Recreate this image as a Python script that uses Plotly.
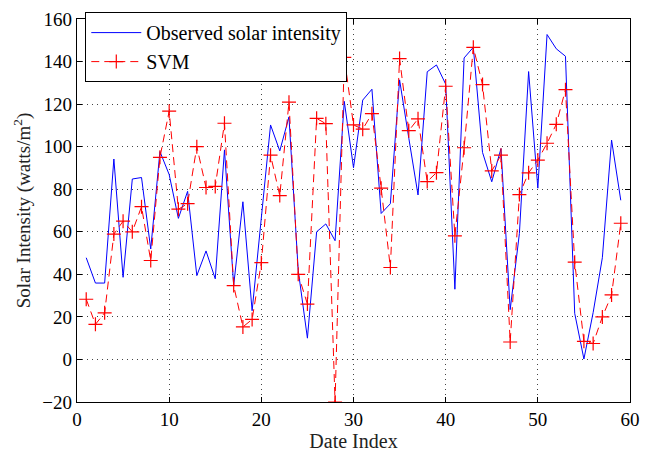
import plotly.graph_objects as go

date_index = list(range(1, 60))

observed = [47.8, 35.9, 35.9, 94.2, 38.6, 84.8, 85.5, 51.9, 97.7, 86.9,
            66.3, 79.0, 39.4, 51.0, 37.9, 98.5, 34.8, 74.1, 22.9, 66.0,
            110.2, 98.0, 114.0, 42.0, 10.0, 60.0, 63.7, 55.8, 121.3, 90.1,
            121.9, 127.0, 68.6, 73.2, 131.4, 104.0, 77.3, 135.2, 138.4, 129.4,
            33.0, 141.7, 146.7, 97.3, 83.5, 99.1, 23.4, 59.2, 135.3, 80.5,
            152.7, 146.0, 142.5, 21.7, 0.2, 22.0, 47.8, 103.1, 74.8]

svm = [28.3, 16.5, 21.9, 58.9, 65.0, 60.0, 71.8, 46.5, 95.0, 116.7,
       70.6, 73.2, 100.0, 80.8, 81.3, 111.0, 34.7, 15.3, 18.8, 45.5,
       96.0, 77.0, 120.9, 40.0, 26.0, 113.3, 110.8, -20.0, 142.0, 110.2,
       108.2, 115.5, 80.5, 43.2, 141.4, 107.5, 113.1, 83.6, 87.8, 128.4,
       58.1, 99.5, 146.7, 129.2, 88.6, 96.0, 8.2, 77.5, 87.7, 93.7,
       101.6, 110.5, 126.8, 45.7, 8.5, 7.5, 20.0, 30.3, 64.0]

x_ticks = [0, 10, 20, 30, 40, 50, 60]
y_ticks = [-20, 0, 20, 40, 60, 80, 100, 120, 140, 160]

FONT = "Liberation Serif, Times New Roman, serif"

fig = go.Figure()
fig.add_trace(go.Scatter(
    x=date_index, y=observed, mode="lines", name="Observed solar intensity",
    line=dict(color="#0000ff", width=1),
))
fig.add_trace(go.Scatter(
    x=date_index, y=svm, mode="lines+markers", name="SVM",
    line=dict(color="#ff0000", width=1, dash="8px,5px"),
    marker=dict(symbol="cross-thin-open", size=10,
                line=dict(color="#ff0000", width=1.2)),
))

axis_common = dict(
    showline=True, linecolor="black", linewidth=1.3, mirror="ticks",
    ticks="inside", ticklen=5, tickcolor="black", tickwidth=1,
    showgrid=True, gridcolor="#444444", gridwidth=1, griddash="1px,4px",
    zeroline=False, ticklabeloverflow="allow",
    tickfont=dict(family=FONT, size=19, color="black"),
)

fig.update_xaxes(
    range=[0, 60], tickvals=x_ticks,
    title=dict(text="Date Index", font=dict(family=FONT, size=20, color="#222"), standoff=4),
    **axis_common,
)
fig.update_yaxes(
    range=[-20, 160], tickvals=y_ticks,
    title=dict(text="Solar Intensity (watts/m<sup>2</sup>)",
               font=dict(family=FONT, size=19, color="#222"), standoff=6),
    **axis_common,
)

fig.update_layout(
    width=659, height=457,
    margin=dict(l=77, r=29, t=9, b=54),
    plot_bgcolor="white", paper_bgcolor="white",
    showlegend=True,
    legend=dict(
        x=0.015, y=1.018, xanchor="left", yanchor="top",
        bgcolor="white", bordercolor="black", borderwidth=1,
        font=dict(family=FONT, size=20, color="black"),
        itemwidth=50, tracegroupgap=0,
    ),
)

fig.write_html("out.html")
